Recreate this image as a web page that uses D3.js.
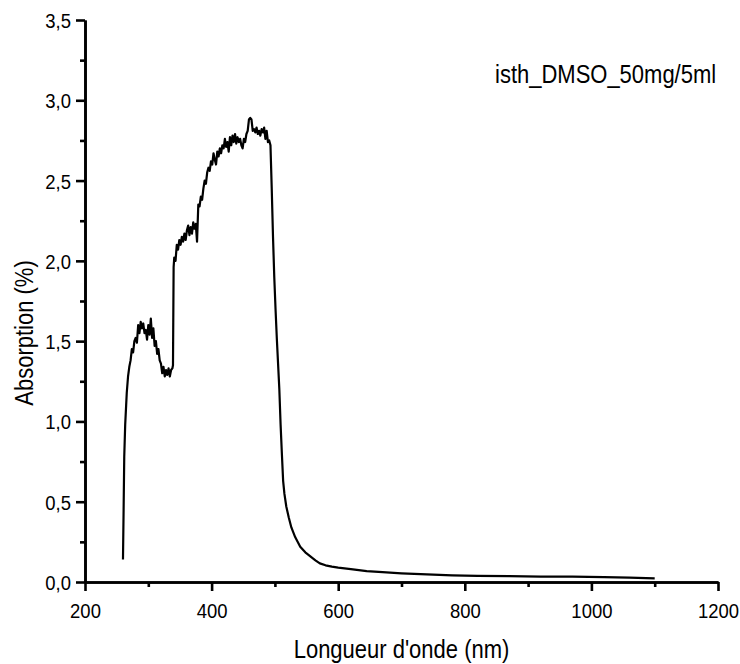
<!DOCTYPE html>
<html lang="en">
	<head>
		<meta charset="utf-8">
		<script src="https://d3js.org/d3.v7.min.js"></script>
		<style>
			body { margin: 0; background: #fff; }
			svg text { font-family: "Liberation Sans", Arial, sans-serif; fill: #000; }
		</style>
	</head>

	<body>

	<script>
        // #######################################################
        // data
        // #######################################################
        var wavelength = [260, 261, 262, 263.5, 265, 266, 268, 270, 272, 274, 276, 278, 280, 282, 284, 286, 288, 290,
            292, 294, 296, 298, 300, 302, 304, 306, 308, 310, 312, 314, 316, 318, 320, 322, 324, 326, 328, 330,
            332, 334, 336, 338, 339, 340, 341, 343, 345, 347, 349, 351, 353, 355, 357, 359, 361, 363, 365, 367,
            369, 371, 373, 375, 377, 379, 381, 383, 385, 387, 389, 391, 393, 395, 397, 399, 401, 403, 405, 407,
            409, 411, 413, 415, 417, 419, 421, 423, 425, 427, 429, 431, 433, 435, 437, 439, 441, 443, 445, 447,
            449, 451, 453, 455, 457, 459, 461, 463, 465, 467, 469, 471, 473, 475, 477, 479, 481, 483, 485, 487,
            489, 491, 493, 495, 497, 499, 501, 503, 505, 507, 509, 511, 513, 515, 518, 522, 526, 532, 540, 548,
            556, 564, 571, 580, 590, 600, 620, 645, 670, 700, 740, 780, 820, 870, 920, 970, 1020, 1060, 1100];

        var absorption = [0.14, 0.45, 0.78, 0.98, 1.10, 1.18, 1.28, 1.34, 1.38, 1.45, 1.43, 1.50, 1.52, 1.49, 1.60, 1.55, 1.62, 1.58,
            1.61, 1.55, 1.57, 1.51, 1.60, 1.54, 1.64, 1.52, 1.58, 1.47, 1.50, 1.42, 1.45, 1.38, 1.36, 1.30, 1.34, 1.28, 1.32, 1.29,
            1.33, 1.28, 1.32, 1.33, 1.35, 1.96, 2.02, 2.00, 2.10, 2.07, 2.13, 2.10, 2.15, 2.12, 2.17, 2.13, 2.19, 2.22, 2.16, 2.21,
            2.17, 2.24, 2.20, 2.23, 2.12, 2.35, 2.34, 2.40, 2.38, 2.45, 2.50, 2.48, 2.55, 2.58, 2.56, 2.62, 2.60, 2.67, 2.63, 2.60,
            2.68, 2.65, 2.70, 2.67, 2.72, 2.70, 2.76, 2.71, 2.74, 2.68, 2.77, 2.72, 2.78, 2.74, 2.79, 2.73, 2.77, 2.74, 2.76, 2.72,
            2.70, 2.76, 2.74, 2.79, 2.81, 2.88, 2.89, 2.88, 2.81, 2.82, 2.80, 2.83, 2.79, 2.81, 2.78, 2.82, 2.80, 2.83, 2.76, 2.81,
            2.74, 2.75, 2.72, 2.45, 2.15, 1.90, 1.70, 1.52, 1.36, 1.20, 0.98, 0.80, 0.63, 0.55, 0.47, 0.40, 0.34, 0.28, 0.22, 0.185,
            0.16, 0.135, 0.116, 0.104, 0.096, 0.090, 0.080, 0.068, 0.061, 0.054, 0.047, 0.041, 0.038, 0.036, 0.034, 0.033, 0.030, 0.027, 0.023];

        var xTicks = [200, 400, 600, 800, 1000, 1200];
        var xMinor = [300, 500, 700, 900, 1100];
        var yTicks = [0, 0.5, 1.0, 1.5, 2.0, 2.5, 3.0, 3.5];
        var yMinor = [0.25, 0.75, 1.25, 1.75, 2.25, 2.75, 3.25];

        var seriesLabel = "isth_DMSO_50mg/5ml";
        var xTitle = "Longueur d'onde (nm)";
        var yTitle = "Absorption (%)";

        // #######################################################

        var margin = {top: 20, right: 22, bottom: 82, left: 85},
            width = 740 - margin.left - margin.right,
            height = 664 - margin.top - margin.bottom;

        var svg = d3.select("body").append("svg")
                    .attr("width", 740)
                    .attr("height", 664)
                    .append("g").attr("transform",
                       "translate(" + margin.left + "," + margin.top + ")");

        var x = d3.scaleLinear().domain([200, 1200]).range([0, width]);
        var y = d3.scaleLinear().domain([0, 3.5]).range([height, 0]);

        var commaFmt = function(d) { return d3.format(".1f")(d).replace(".", ","); };

        // outward ticks, black and heavy
        function heavy(g) {
            g.selectAll("line, path").attr("stroke", "#000").attr("stroke-width", 2.6);
        }

        // minor ticks (5px)
        svg.append("g")
           .attr("transform", "translate(0," + height + ")")
           .call(d3.axisBottom(x).tickValues(xMinor).tickSize(5).tickSizeOuter(0).tickFormat(""))
           .call(heavy);
        svg.append("g")
           .call(d3.axisLeft(y).tickValues(yMinor).tickSize(5).tickSizeOuter(0).tickFormat(""))
           .call(heavy);

        // major ticks (9px) + labels
        var xAxis = svg.append("g")
           .attr("transform", "translate(0," + height + ")")
           .call(d3.axisBottom(x).tickValues(xTicks).tickSize(9).tickSizeOuter(0).tickFormat(d3.format("d")))
           .call(heavy);
        xAxis.selectAll("text")
             .attr("y", 36)
             .attr("dy", null)
             .attr("transform", "scale(0.88,1)")
             .style("font-size", "21px");

        var yAxis = svg.append("g")
           .call(d3.axisLeft(y).tickValues(yTicks).tickSize(9).tickSizeOuter(0).tickFormat(commaFmt))
           .call(heavy);
        yAxis.selectAll("text")
             .attr("x", 0)
             .attr("dy", "0.36em")
             .attr("transform", "translate(-14,0) scale(0.88,1)")
             .style("font-size", "21px");

        // the spectrum
        var line = d3.line()
                     .x((d, i) => x(wavelength[i]))
                     .y(d => y(d));

        svg.append("path")
           .datum(absorption)
           .attr("fill", "none")
           .attr("stroke", "#000")
           .attr("stroke-width", 2.2)
           .attr("stroke-linejoin", "round")
           .attr("d", line);

        // labels
        svg.append("text")
           .attr("transform", "translate(" + (width / 2) + "," + (height + 76) + ") scale(0.88,1)")
           .attr("text-anchor", "middle")
           .style("font-size", "25px")
           .text(xTitle);

        svg.append("text")
           .attr("transform", "translate(" + (33 - margin.left) + "," + (333 - margin.top) + ") rotate(-90) scale(0.88,1)")
           .attr("text-anchor", "middle")
           .style("font-size", "25px")
           .text(yTitle);

        svg.append("text")
           .attr("transform", "translate(" + (495 - margin.left) + "," + (83 - margin.top) + ") scale(0.88,1)")
           .style("font-size", "25px")
           .text(seriesLabel);
	</script>

	</body>
</html>
